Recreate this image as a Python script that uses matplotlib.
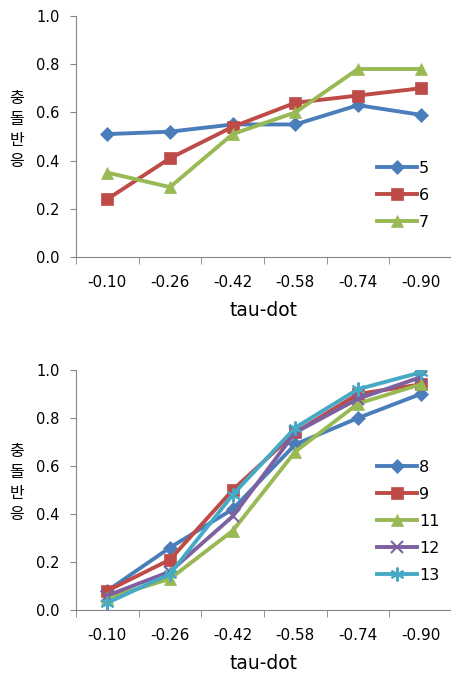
import matplotlib
matplotlib.use("Agg")
import matplotlib.pyplot as plt

plt.rcParams['font.family'] = ['DejaVu Sans', 'Noto Sans CJK KR']

# category labels (tau-dot)
categories = ["-0.10", "-0.26", "-0.42", "-0.58", "-0.74", "-0.90"]
ylabel_chars = ["충", "돌", "반", "응"]

# top panel
top_labels = ["5", "6", "7"]
s5 = [0.51, 0.52, 0.55, 0.55, 0.63, 0.59]
s6 = [0.24, 0.41, 0.54, 0.64, 0.67, 0.70]
s7 = [0.35, 0.29, 0.51, 0.60, 0.78, 0.78]

# bottom panel
bottom_labels = ["8", "9", "11", "12", "13"]
s8 = [0.08, 0.26, 0.42, 0.69, 0.80, 0.90]
s9 = [0.08, 0.21, 0.50, 0.74, 0.90, 0.94]
s11 = [0.05, 0.13, 0.33, 0.66, 0.86, 0.94]
s12 = [0.06, 0.16, 0.39, 0.74, 0.88, 0.97]
s13 = [0.03, 0.15, 0.48, 0.76, 0.92, 0.99]

colors = ["#4A7EBB", "#BE4B48", "#98B954", "#7D60A0", "#46AAC5"]
markers = ["D", "s", "^", "x", (6, 2, 0)]
msizes = [7, 9, 9, 9, 10]

W, H = 452, 679
fig = plt.figure(figsize=(W / 100, H / 100), dpi=100)


def panel(top_px, bottom_px, series, labels, legend_y):
    ax = fig.add_axes([76 / W, 1 - bottom_px / H, (452 - 76) / W, (bottom_px - top_px) / H])
    x = list(range(len(categories)))
    for i, (vals, lab) in enumerate(zip(series, labels)):
        ax.plot(x, vals, color=colors[i], lw=2.8, marker=markers[i], ms=msizes[i],
                mew=1.5 if i >= 3 else 0.5, mec=colors[i], label=lab)
    ax.set_xlim(-0.5, 5.44)
    ax.set_ylim(0, 1.0)
    ax.set_yticks([0, 0.2, 0.4, 0.6, 0.8, 1.0])
    ax.set_yticklabels(["0.0", "0.2", "0.4", "0.6", "0.8", "1.0"], fontsize=10.5)
    ax.set_xticks(x)
    ax.set_xticklabels(categories, fontsize=11)
    ax.set_xticks([v - 0.5 for v in x] + [5.5], minor=True)
    ax.tick_params(axis='x', which='major', length=0, pad=13)
    ax.tick_params(axis='x', which='minor', length=5, color="#868686", direction="out")
    ax.tick_params(axis='y', length=4, color="#868686", direction="out", pad=8)
    for s in ["top", "right"]:
        ax.spines[s].set_visible(False)
    for s in ["left", "bottom"]:
        ax.spines[s].set_color("#868686")
    ax.set_xlabel("tau-dot", fontsize=13.5, labelpad=8)
    ax.legend(loc="upper left", bbox_to_anchor=(0.80, legend_y), frameon=False,
              fontsize=11.5, handlelength=2.5, handletextpad=0.15, labelspacing=0.75,
              borderaxespad=0, borderpad=0)
    return ax


panel(16, 257, [s5, s6, s7], top_labels, 0.40)
panel(370, 610, [s8, s9, s11, s12, s13], bottom_labels, 0.625)

for yc in (130, 483):
    for k, ch in enumerate(ylabel_chars):
        fig.text(17 / W, 1 - (yc + (k - 1.5) * 21) / H, ch, fontsize=11.5,
                 family="Noto Sans CJK KR", ha="center", va="center")

fig.savefig("out.png", dpi=100)
